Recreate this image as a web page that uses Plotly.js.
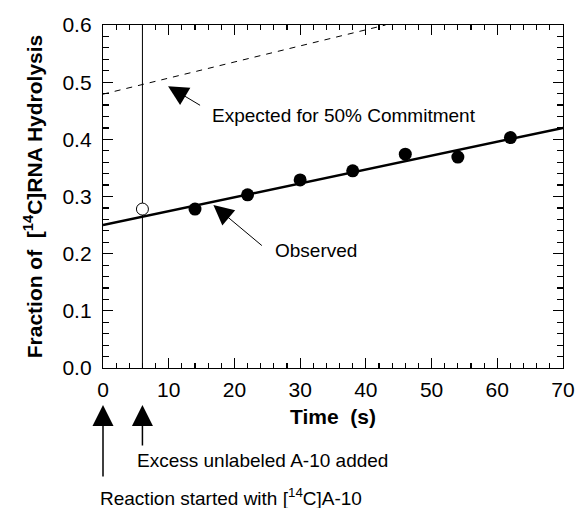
<!DOCTYPE html>
<html>
<head>
<meta charset="utf-8">
<script src="https://cdn.plot.ly/plotly-3.0.1.min.js"></script>
<style>html,body{margin:0;padding:0;background:#fff}</style>
</head>
<body>
<div id="chart" style="width:579px;height:508px"></div>
<script>
// Observed data (filled circles)
const timeObs = [14, 22, 30, 38, 46, 54, 62];
const fracObs = [0.278, 0.303, 0.329, 0.345, 0.374, 0.369, 0.403];
// Open circle at time of chase
const timeChase = [6];
const fracChase = [0.278];
// Linear fit to observed
const fitX = [0, 70];
const fitY = [0.250, 0.420];
// Expected for 50% commitment (dashed)
const expX = [0, 43];
const expY = [0.479, 0.600];
// Vertical marker at chase time
const chaseLineX = [6, 6];
const chaseLineY = [0, 0.6];

const FONT = '"Liberation Sans", Arial, Helvetica, sans-serif';

const traces = [
  {x: chaseLineX, y: chaseLineY, mode: 'lines', line: {color: '#000', width: 1}, hoverinfo: 'skip'},
  {x: expX, y: expY, mode: 'lines', line: {color: '#000', width: 1, dash: '6px,6px'}, hoverinfo: 'skip'},
  {x: fitX, y: fitY, mode: 'lines', line: {color: '#000', width: 2.5}, hoverinfo: 'skip'},
  {x: timeObs, y: fracObs, mode: 'markers', marker: {color: '#000', size: 13}},
  {x: timeChase, y: fracChase, mode: 'markers', marker: {color: '#fff', size: 12, line: {color: '#000', width: 1}}}
];

const axCommon = {
  showline: true, linecolor: '#000', linewidth: 1.2, mirror: 'allticks',
  ticks: 'inside', ticklen: 10, tickwidth: 1.2, tickcolor: '#000',
  showgrid: false, zeroline: false,
  tickfont: {family: FONT, size: 21, color: '#000'}
};

const layout = {
  width: 579, height: 508,
  margin: {l: 103, r: 16, t: 25, b: 140},
  paper_bgcolor: '#fff', plot_bgcolor: '#fff',
  showlegend: false,
  font: {family: FONT, color: '#000'},
  xaxis: Object.assign({}, axCommon, {
    range: [0, 70], dtick: 10, tick0: 0, ticklabelstandoff: 3,
    minor: {dtick: 2, ticks: 'inside', ticklen: 5, tickwidth: 1.2, tickcolor: '#000'},
    title: {text: 'Time  (s)', font: {family: FONT, size: 21, color: '#000', weight: 'bold'}, standoff: 8}
  }),
  yaxis: Object.assign({}, axCommon, {
    range: [0, 0.6], dtick: 0.1, tick0: 0, tickformat: '.1f', ticklabelstandoff: 6,
    minor: {dtick: 0.02, ticks: 'inside', ticklen: 6, tickwidth: 1.2, tickcolor: '#000'},
    title: {text: 'Fraction of  [<sup>14</sup>C]RNA Hydrolysis', font: {family: FONT, size: 21, color: '#000', weight: 'bold'}, standoff: 14}
  }),
  annotations: [
    {xref: 'x', yref: 'y', x: 16.3, y: 0.4425, text: 'Expected for 50% Commitment', showarrow: false,
     xanchor: 'left', yanchor: 'middle', font: {family: FONT, size: 19, color: '#000'}},
    {xref: 'x', yref: 'y', x: 9.9, y: 0.493, axref: 'x', ayref: 'y', ax: 15.0, ay: 0.458, text: '',
     showarrow: true, arrowhead: 2, arrowsize: 4, arrowwidth: 1, arrowcolor: '#000'},
    {xref: 'x', yref: 'y', x: 25.8, y: 0.206, text: 'Observed', showarrow: false,
     xanchor: 'left', yanchor: 'middle', font: {family: FONT, size: 19, color: '#000'}},
    {xref: 'x', yref: 'y', x: 16.8, y: 0.285, axref: 'x', ayref: 'y', ax: 24.4, ay: 0.212, text: '',
     showarrow: true, arrowhead: 2, arrowsize: 4, arrowwidth: 1, arrowcolor: '#000'},
    {xref: 'x', yref: 'paper', x: 0, y: -0.108, ax: 0, ay: 73, text: '',
     showarrow: true, arrowhead: 2, arrowsize: 2.8, arrowwidth: 1.5, arrowcolor: '#000'},
    {xref: 'x', yref: 'paper', x: 6, y: -0.108, ax: 0, ay: 42, text: '',
     showarrow: true, arrowhead: 2, arrowsize: 2.8, arrowwidth: 1.5, arrowcolor: '#000'},
    {xref: 'x', yref: 'paper', x: 4.87, y: -0.271, text: 'Excess unlabeled A-10 added', showarrow: false,
     xanchor: 'left', yanchor: 'middle', font: {family: FONT, size: 19, color: '#000'}},
    {xref: 'paper', yref: 'paper', x: -0.011, y: -0.376, text: 'Reaction started with [<sup>14</sup>C]A-10', showarrow: false,
     xanchor: 'left', yanchor: 'middle', font: {family: FONT, size: 19, color: '#000'}}
  ]
};

Plotly.newPlot('chart', traces, layout, {displayModeBar: false, staticPlot: true});
</script>
</body>
</html>
